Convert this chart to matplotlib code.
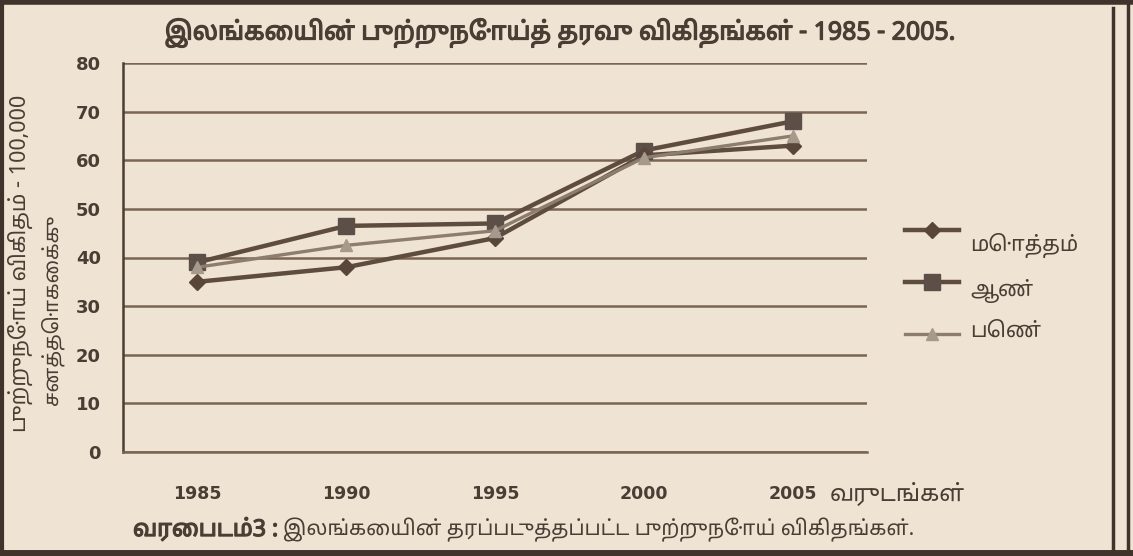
import matplotlib
matplotlib.use('Agg')
import matplotlib.pyplot as plt
from matplotlib import font_manager as fm
from matplotlib.lines import Line2D
import matplotlib.patheffects as pe

# ---- data ----
years = ['1985', '1990', '1995', '2000', '2005']
total = [35, 38, 44, 61, 63]
male = [39, 46.5, 47, 62, 68]
female = [38, 42.5, 45.5, 60.5, 65]
series_labels = ['மொத்தம்', 'ஆண்', 'பெண்']
yticks = [0, 10, 20, 30, 40, 50, 60, 70, 80]

title = 'இலங்கையின் புற்றுநோய்த் தரவு விகிதங்கள் - 1985 - 2005.'
ylabel1 = 'புற்றுநோய் விகிதம் - 100,000'
ylabel2 = 'சனத்தொகைக்கு'
xlabel = 'வருடங்கள்'
caption_bold = 'வரைபடம்3 :'
caption = 'இலங்கையின் தரப்படுத்தப்பட்ட புற்றுநோய் விகிதங்கள்.'

names = {f.name for f in fm.fontManager.ttflist}
tam = None
for cand in ['Noto Sans Tamil', 'Noto Sans Tamil UI', 'Anek Tamil', 'Lohit Tamil', 'FreeSans']:
    if cand in names:
        tam = cand
        break
fams = ([tam] if tam else []) + ['DejaVu Sans']
plt.rcParams['font.family'] = fams

BG = '#efe3d3'
INK = '#4a3d34'
LINE = '#5e4c3f'
GRID = '#7a6552'
W, H = 1133, 556

fig = plt.figure(figsize=(W / 100, H / 100), dpi=100, facecolor=BG)
ax = fig.add_axes([123 / W, 104 / H, 744 / W, 389 / H])
ax.set_facecolor(BG)

x = list(range(len(years)))
sty_total = dict(color=LINE, lw=3.2, marker='D', ms=8, mfc='#574639', mec='#574639')
sty_male = dict(color=LINE, lw=3.2, marker='s', ms=12, mfc='#5c4f47', mec='#5c4f47')
sty_female = dict(color='#8c7d6e', lw=2.4, marker='^', ms=9, mfc='#a59a8b', mec='#a59a8b')
ax.plot(x, total, zorder=4, **sty_total)
ax.plot(x, male, zorder=3, **sty_male)
ax.plot(x, female, zorder=5, **sty_female)

ax.set_xlim(-0.5, len(years) - 0.5)
ax.set_ylim(0, 80)
ax.set_yticks(yticks)
ax.set_xticks(x)
ax.set_xticklabels(years)
ax.yaxis.grid(True, color=GRID, lw=1.8)
ax.set_axisbelow(True)
for s in ['top', 'right']:
    ax.spines[s].set_visible(False)
ax.spines['left'].set_color(INK)
ax.spines['left'].set_linewidth(1.8)
ax.spines['bottom'].set_color(GRID)
ax.spines['bottom'].set_linewidth(1.8)
ax.tick_params(length=0, colors=INK)
ax.tick_params(axis='x', pad=24, labelsize=12.5)
ax.tick_params(axis='y', pad=16, labelsize=13)
for t in ax.get_yticklabels() + ax.get_xticklabels():
    t.set_fontweight('bold')
    t.set_family('DejaVu Sans')

handles = [Line2D([], [], **sty_total), Line2D([], [], **sty_male), Line2D([], [], **sty_female)]
leg = fig.legend(handles, series_labels, loc='upper left',
                 bbox_to_anchor=(905 / W, 1 - 219 / H), frameon=False,
                 fontsize=14, handlelength=2.8, labelspacing=1.45, handletextpad=0.55,
                 labelcolor=INK, borderaxespad=0, borderpad=0)

bold = [pe.withStroke(linewidth=0.9, foreground=INK)]
t_title = fig.text(560 / W, 1 - 33 / H, title, ha='center', va='center', fontsize=14,
                   color=INK, path_effects=bold)
fig.text(20 / W, 1 - 432 / H, ylabel1, rotation=90, ha='center', va='bottom',
         fontsize=15.5, color=INK)
fig.text(52 / W, 1 - 405 / H, ylabel2, rotation=90, ha='center', va='bottom',
         fontsize=14.5, color=INK)
t_xl = fig.text(830 / W, 1 - 495 / H, xlabel, ha='left', va='center', fontsize=13, color=INK)
t_cb = fig.text(133 / W, 1 - 530 / H, caption_bold, ha='left', va='center', fontsize=13,
                color=INK, path_effects=bold)
t_c = fig.text(283 / W, 1 - 530 / H, caption, ha='left', va='center', fontsize=13, color=INK)

# scale fonts so the texts span the same width as in the reference
fig.canvas.draw()
r = fig.canvas.get_renderer()
for t, target in [(t_title, 790), (t_xl, 135), (t_cb, 145), (t_c, 632)]:
    bb = t.get_window_extent(r)
    if bb.width > 0:
        t.set_fontsize(t.get_fontsize() * target / bb.width)
lt = leg.get_texts()
bb = lt[0].get_window_extent(r)
if bb.width > 0:
    for t in lt:
        t.set_fontsize(14 * 108 / bb.width)
# labels sit a little off their legend lines, as in the reference
for t, dy in zip(lt, [-14, -7, 4]):
    t.set_y(dy)

# page frame
frame = '#3f332b'
fig.add_artist(Line2D([0, 1], [1 - 2 / H, 1 - 2 / H], color=frame, lw=4, transform=fig.transFigure))
fig.add_artist(Line2D([0, 1], [3 / H, 3 / H], color=frame, lw=5, transform=fig.transFigure))
fig.add_artist(Line2D([2 / W, 2 / W], [0, 1], color=frame, lw=3, transform=fig.transFigure))
fig.add_artist(Line2D([1113 / W, 1113 / W], [0, 1 - 8 / H], color=frame, lw=2.5, transform=fig.transFigure))
fig.add_artist(Line2D([1128 / W, 1128 / W], [0, 1], color=frame, lw=2.5, transform=fig.transFigure))

fig.savefig('out.png', dpi=100, facecolor=BG)
